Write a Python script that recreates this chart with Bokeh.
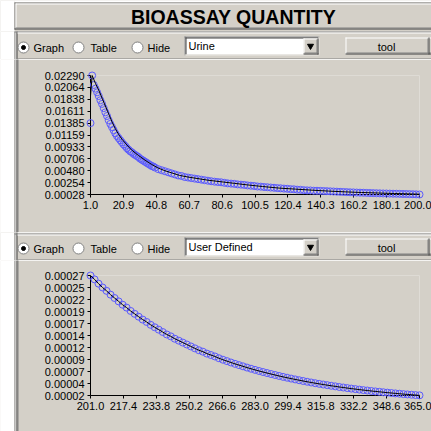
import numpy as np
from bokeh.plotting import figure
from bokeh.layouts import column, row
from bokeh.models import Range1d, FixedTicker, PrintfTickFormatter, CustomJSTickFormatter
from bokeh.core.properties import value
from bokeh.embed import file_html
from bokeh.resources import INLINE

# ---------------- data ----------------
TITLE = "BIOASSAY QUANTITY"
RADIO_LABELS = ["Graph", "Table", "Hide"]
COMBO_1 = "Urine"
COMBO_2 = "User Defined"
BUTTON = "tool"

# upper chart (Urine)
X1_TICKS = [1.0, 20.9, 40.8, 60.7, 80.6, 100.5, 120.4, 140.3, 160.2, 180.1, 200.0]
Y1_TICK_LABELS = ["0.00028", "0.00254", "0.00480", "0.00706", "0.00933", "0.01159",
                  "0.01385", "0.01611", "0.01838", "0.02064", "0.02290"]
Y1_MIN, Y1_MAX = 0.00028, 0.02290
X1_MIN, X1_MAX = 1.0, 200.0

T_LINE_DAY = [1, 2, 4, 6, 8, 10, 12, 14, 16, 18, 20, 23, 26, 30, 34, 38, 42, 46, 50, 55,
              60, 66, 72, 80, 88, 96, 105, 115, 125, 135, 145, 155, 165, 175, 185, 200]
T_LINE_VAL = [0.0190, 0.0229, 0.0214, 0.0201, 0.0186, 0.0171, 0.0156, 0.0141, 0.0128, 0.0117,
              0.0108, 0.0097, 0.0087, 0.0077, 0.0068, 0.0060, 0.0053, 0.0048, 0.0044, 0.0039,
              0.0036, 0.0033, 0.0030, 0.0027, 0.0024, 0.0021, 0.0018, 0.0015, 0.0013, 0.0011,
              0.00093, 0.00078, 0.00066, 0.00056, 0.00047, 0.00034]

T_CIRC_DAY = list(range(1, 41)) + list(range(42, 201, 2))
T_CIRC_VAL = [0.01385, 0.0229, 0.0211, 0.0204, 0.0197, 0.0190, 0.0182, 0.0175, 0.0167, 0.0159,
              0.0152, 0.0144, 0.0137, 0.0131, 0.0125, 0.0119, 0.0114, 0.0110, 0.0106, 0.0102,
              0.0098, 0.0095, 0.0091, 0.0088, 0.0085, 0.0083, 0.0080, 0.0078, 0.0076, 0.0074,
              0.0071, 0.0069, 0.0067, 0.0065, 0.0063, 0.0061, 0.0059, 0.0057, 0.0056, 0.0054,
              0.0051, 0.0049, 0.0047, 0.0045, 0.0043, 0.0041, 0.0039, 0.0038, 0.0036, 0.0035,
              0.0034, 0.0033, 0.0032, 0.0031, 0.0030, 0.0029, 0.0028, 0.00272, 0.00265, 0.0026,
              0.0025, 0.0024, 0.00235, 0.0023, 0.0022, 0.00215, 0.0021, 0.0020, 0.00195, 0.0019,
              0.0018, 0.00177, 0.0017, 0.00166, 0.0016, 0.00156, 0.0015, 0.00146, 0.0014, 0.00137,
              0.0013, 0.00127, 0.0012, 0.00117, 0.0011, 0.00107, 0.00105, 0.0010, 0.00099, 0.00097,
              0.00094, 0.00091, 0.00088, 0.00085, 0.00082, 0.00079, 0.00076, 0.00073, 0.00070, 0.00068,
              0.00065, 0.00063, 0.00061, 0.00058, 0.00056, 0.00054, 0.00052, 0.00050, 0.00048, 0.00047,
              0.00045, 0.00043, 0.00042, 0.00040, 0.00038, 0.00037, 0.00035, 0.00033, 0.00031, 0.00028]

# lower chart (User Defined)
X2_TICKS = [201.0, 217.4, 233.8, 250.2, 266.6, 283.0, 299.4, 315.8, 332.2, 348.6, 365.0]
Y2_TICK_LABELS = ["0.00002", "0.00004", "0.00007", "0.00009", "0.00012", "0.00014",
                  "0.00017", "0.00019", "0.00022", "0.00025", "0.00027"]
Y2_MIN, Y2_MAX = 0.0000195, 0.000270
X2_MIN, X2_MAX = 201.0, 365.0

B_DAY = list(range(201, 366, 2))
B_VAL = [0.000270, 0.000262, 0.000253, 0.000245, 0.000238, 0.000230, 0.000223, 0.000216, 0.000209, 0.000203,
         0.000196, 0.000190, 0.000184, 0.000178, 0.000173, 0.000167, 0.000162, 0.000157, 0.000152, 0.000147,
         0.000143, 0.000138, 0.000134, 0.000130, 0.000126, 0.000122, 0.000118, 0.000114, 0.000111, 0.000107,
         0.000104, 0.000101, 0.0000973, 0.0000942, 0.0000913, 0.0000884, 0.0000856, 0.0000830, 0.0000804, 0.0000778,
         0.0000754, 0.0000730, 0.0000707, 0.0000685, 0.0000664, 0.0000643, 0.0000623, 0.0000603, 0.0000584, 0.0000566,
         0.0000548, 0.0000531, 0.0000514, 0.0000498, 0.0000482, 0.0000467, 0.0000452, 0.0000438, 0.0000424, 0.0000411,
         0.0000398, 0.0000386, 0.0000373, 0.0000362, 0.0000350, 0.0000339, 0.0000329, 0.0000318, 0.0000308, 0.0000299,
         0.0000289, 0.0000280, 0.0000272, 0.0000263, 0.0000255, 0.0000247, 0.0000239, 0.0000232, 0.0000224, 0.0000217,
         0.0000211, 0.0000204, 0.0000198]

# ---------------- style ----------------
BG = "#D4D0C8"
DARK = "#808080"
DARKER = "#404040"
BLUE = "#5A5AFF"
FONT = "Liberation Sans"
W = 431
PAGE_L, PAGE_R = 0, W
XL, XR = 90, 419          # page x of the first / last x tick (frame edges)
OV = dict(level="overlay")


def chrome(y0, y1):
    p = figure(width=W, height=y1 - y0, x_range=Range1d(PAGE_L, PAGE_R), y_range=Range1d(y1, y0),
               output_backend="svg", toolbar_location=None, x_axis_location=None,
               y_axis_location=None, min_border=0)
    p.grid.visible = False
    p.outline_line_color = None
    p.background_fill_color = BG
    p.border_fill_color = BG
    return p


def box(p, l, r, t, b, c, **kw):
    p.quad(left=[l], right=[r], top=[t], bottom=[b], fill_color=c, line_color=None, **OV, **kw)


def dot(p, x, y, size, fill, line, marker="circle"):
    p.scatter([x], [y], marker=marker, size=size, fill_color=fill, line_color=line, **OV)


def label(p, x, y, s, size="11px", align="left", bold=False):
    p.text(x=[x], y=[y], text=[s], text_font=value(FONT), text_font_size=value(size),
           text_align=align, text_baseline="middle", text_color="black",
           text_font_style="bold" if bold else "normal", **OV)


def left_edge(p, y0, y1, inner=False, **kw):
    box(p, 0, 14, y0, y1, "white", **kw)
    box(p, 14, 15, y0, y1, DARK, **kw)
    box(p, 15, 16, y0, y1, "#E8E8E8", **kw)
    box(p, 16, 17, y0, y1, DARKER, **kw)
    if inner:
        box(p, 17, 18, y0, y1, DARK, **kw)


def controls(p, yc, combo_text, top_border):
    # panel top border
    box(p, 14, PAGE_R, top_border, top_border + 1, DARK)
    box(p, 17, PAGE_R, top_border + 1, top_border + 2, "white")
    # radio buttons
    for xc, xt, s in zip([23, 78, 137], [33, 90, 147], RADIO_LABELS):
        dot(p, xc, yc, 11, "white", DARK)
        label(p, xt, yc + 0.5, s)
    dot(p, 23, yc, 4, "black", "black")
    # combo box
    t, b = yc - 11, yc + 8
    box(p, 184, 319, t, b, "white")
    box(p, 184, 319, t, t + 1, DARK)
    box(p, 184, 185, t, b, DARK)
    box(p, 185, 318, t + 1, t + 2, DARKER)
    box(p, 185, 186, t + 1, b - 1, DARKER)
    box(p, 318, 319, t, b, BG)
    box(p, 184, 319, b - 1, b, BG)
    box(p, 303, 318, t + 2, b - 1, BG)
    box(p, 303, 318, t + 2, t + 3, "white")
    box(p, 303, 304, t + 2, b - 1, "white")
    box(p, 303, 318, b - 2, b - 1, DARKER)
    box(p, 317, 318, t + 2, b - 1, DARKER)
    box(p, 304, 317, b - 3, b - 2, DARK)
    box(p, 316, 317, t + 3, b - 2, DARK)
    dot(p, 310, yc - 1.5, 6, "black", "black", marker="inverted_triangle")
    label(p, 188, yc - 2, combo_text)
    # tool button
    bt, bb = yc - 10, yc + 7
    box(p, 345, PAGE_R, bt, bt + 1, "white")
    box(p, 345, 346, bt, bb, "white")
    box(p, 345, PAGE_R, bb - 1, bb, DARKER)
    box(p, 346, PAGE_R, bb - 2, bb - 1, DARK)
    box(p, 428, 429, bt, bb, DARKER)
    box(p, 427, 428, bt + 1, bb - 1, DARK)
    label(p, 386, yc - 1, BUTTON, align="center")


def chart(y0, h, tick_top, tick_bot, xmin, xmax, ymin, ymax, xticks, ylabels,
          circ_x, circ_y, line_x, line_y):
    p = figure(width=W, height=h,
               x_range=Range1d(xmin, xmax), y_range=Range1d(ymin, ymax),
               output_backend="svg", toolbar_location=None,
               min_border_left=XL, min_border_right=W - XR,
               min_border_top=tick_top - y0,
               min_border_bottom=y0 + h - tick_bot)
    p.grid.visible = False
    p.outline_line_color = None
    p.background_fill_color = BG
    p.border_fill_color = BG

    # page-pixel coordinate system for the window frame around the chart
    p.extra_x_ranges = {"px": Range1d(XL, XR)}
    p.extra_y_ranges = {"py": Range1d(tick_bot, tick_top)}
    left_edge(p, y0, y0 + h, inner=True, x_range_name="px", y_range_name="py")

    rc = p.scatter(circ_x, circ_y, marker="circle", size=7, fill_color=None,
                   line_color=BLUE, line_width=1)
    rl = p.line(line_x, line_y, line_color="black", line_width=1)
    rc.level = "overlay"
    rl.level = "overlay"

    p.xaxis.ticker = FixedTicker(ticks=xticks)
    p.xaxis.formatter = PrintfTickFormatter(format="%.1f")
    ypos = list(np.linspace(ymin, ymax, len(ylabels)))
    p.yaxis.ticker = FixedTicker(ticks=ypos)
    p.yaxis.formatter = CustomJSTickFormatter(args=dict(labels=ylabels, pos=ypos), code="""
        let best = 0;
        for (let i = 0; i < pos.length; i++) {
            if (Math.abs(pos[i] - tick) < Math.abs(pos[best] - tick)) best = i;
        }
        return labels[best];
    """)
    for ax in (p.xaxis, p.yaxis):
        ax.axis_line_color = "black"
        ax.major_tick_line_color = "black"
        ax.minor_tick_line_color = None
        ax.major_tick_out = 3
        ax.major_tick_in = 0
        ax.major_label_standoff = 3
        ax.major_label_text_font = FONT
        ax.major_label_text_font_size = "11px"
        ax.major_label_text_color = "black"
    return p


# ---------------- layout ----------------
# Row A: title bar
pa = chrome(0, 31)
box(pa, 0, 14, 0, 31, "white")
box(pa, 14, PAGE_R, 0, 2, "white")
box(pa, 14, PAGE_R, 2, 29, BG)
box(pa, 14, PAGE_R, 2, 3, DARK)
box(pa, 15, PAGE_R, 3, 4, "white")
box(pa, 14, 15, 2, 29, DARK)
box(pa, 15, 16, 3, 28, "white")
box(pa, 14, PAGE_R, 28, 29, DARKER)
box(pa, 15, PAGE_R, 27, 28, DARK)
label(pa, 233, 16.5, TITLE, size="19.5px", align="center", bold=True)

# Row B: controls panel 1
pb = chrome(31, 59)
left_edge(pb, 31, 59)
controls(pb, 47, COMBO_1, 31)
box(pb, 17, PAGE_R, 58, 59, DARK)

# Row C: chart 1
pc = chart(59, 173, 75, 194, X1_MIN, X1_MAX, Y1_MIN, Y1_MAX, X1_TICKS, Y1_TICK_LABELS,
           T_CIRC_DAY, T_CIRC_VAL, T_LINE_DAY, T_LINE_VAL)

# Row D: controls panel 2
pd_ = chrome(232, 260)
left_edge(pd_, 232, 260)
box(pd_, 17, PAGE_R, 232, 233, "white")
controls(pd_, 248, COMBO_2, 233)
box(pd_, 17, PAGE_R, 259, 260, DARK)

# Row E: chart 2
pe = chart(260, 171, 275, 395, X2_MIN, X2_MAX, Y2_MIN, Y2_MAX, X2_TICKS, Y2_TICK_LABELS,
           B_DAY, B_VAL, B_DAY, B_VAL)

# charts are wrapped in their own rows so that their frames do not dictate
# the frame of the full-width window-chrome strips
layout = column(pa, pb, row(pc, spacing=0), pd_, row(pe, spacing=0), spacing=0)

open("out.html", "w").write(file_html(layout, INLINE))
